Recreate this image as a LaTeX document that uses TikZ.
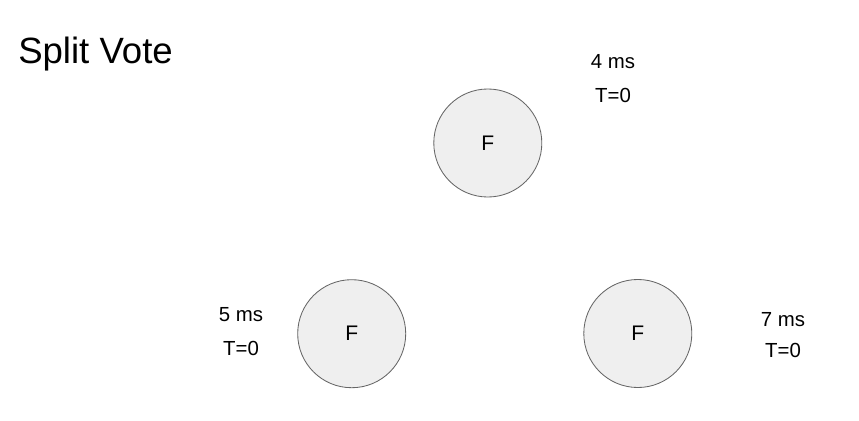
\documentclass[tikz,border=0pt]{standalone}
\usepackage{fontspec}
\setmainfont{Liberation Sans}
\definecolor{nodefill}{HTML}{EFEFEF}
\definecolor{nodeline}{HTML}{666666}

\begin{document}
\begin{tikzpicture}[x=0.025cm,y=-0.025cm,
  follower/.style={circle, draw=nodeline, fill=nodefill, line width=0.6pt,
    minimum size=2.7cm, inner sep=0pt, font=\fontsize{15}{18}\selectfont},
  timer/.style={font=\fontsize{14.5}{17}\selectfont, inner sep=0pt}]
\useasboundingbox (0,0) rectangle (859,420);
\node[anchor=base west, inner sep=0pt, font=\fontsize{26}{31}\selectfont] (title) at (18,63) {Split Vote};
\node[follower] (ftop) at (487.8,143) {F};
\node[follower] (fleft) at (351.7,333.7) {F};
\node[follower] (fright) at (637.8,333.5) {F};
\node[timer] (toptime) at (613,62) {4 ms};
\node[timer] (topterm) at (613,95) {T=0};
\node[timer] (lefttime) at (241,315) {5 ms};
\node[timer] (leftterm) at (241,348) {T=0};
\node[timer] (righttime) at (783,319.5) {7 ms};
\node[timer] (rightterm) at (783,350.5) {T=0};
\end{tikzpicture}
\end{document}
